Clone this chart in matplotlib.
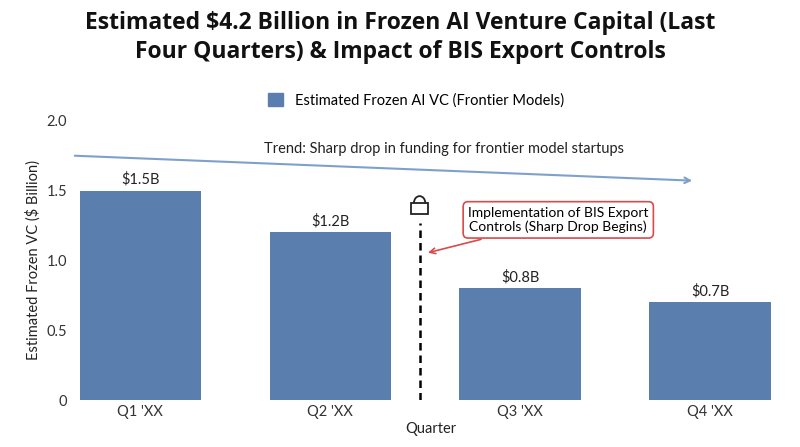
import matplotlib
matplotlib.use('Agg')
import matplotlib.pyplot as plt
from matplotlib.patches import Patch, Rectangle, Arc

quarters = ["Q1 'XX", "Q2 'XX", "Q3 'XX", "Q4 'XX"]
frozen_vc = [1.5, 1.2, 0.8, 0.7]
bar_labels = ['$1.5B', '$1.2B', '$0.8B', '$0.7B']

plt.rcParams['font.family'] = ['Lato', 'DejaVu Sans']
fig = plt.figure(figsize=(8, 4.47), dpi=100)
ax = fig.add_axes([0.09, 0.105, 0.8975, 0.625])

bar_color = '#5a7fae'
x = list(range(len(quarters)))
ax.bar(x, frozen_vc, width=0.64, color=bar_color)
for xi, v, lab in zip(x, frozen_vc, bar_labels):
    ax.text(xi, v + 0.03, lab, ha='center', va='bottom', fontsize=10.5, color='#222222')

ax.set_xlim(-0.36, 3.42)
ax.set_ylim(0, 2.0)
ax.set_yticks([0, 0.5, 1.0, 1.5, 2.0])
ax.set_yticklabels(['0', '0.5', '1.0', '1.5', '2.0'])
ax.set_xticks(x)
ax.set_xticklabels(quarters)
ax.tick_params(length=0, labelsize=10.5, colors='#333333')
for s in ax.spines.values():
    s.set_visible(False)
ax.set_ylabel('Estimated Frozen VC ($ Billion)', fontsize=10.5, color='#222222')
ax.set_xlabel('Quarter', fontsize=10.5, color='#222222', labelpad=2)

# policy line
lx = 1.47
ax.plot([lx, lx], [0, 1.27], ls='--', color='black', lw=1.8, dashes=(3, 2))
# simple padlock shape
ax.add_patch(Rectangle((lx - 0.045, 1.33), 0.09, 0.08, fc='white', ec='#222222', lw=1.3, zorder=5))
ax.add_patch(Arc((lx, 1.41), 0.06, 0.1, theta1=0, theta2=180, ec='#222222', lw=1.3, zorder=5))

ax.annotate('Implementation of BIS Export\nControls (Sharp Drop Begins)',
            xy=(lx + 0.03, 1.05), xytext=(2.2, 1.29), ha='center', va='center',
            fontsize=10,
            bbox=dict(boxstyle='round,pad=0.35', fc='white', ec='#d94a4a', lw=1.2),
            arrowprops=dict(arrowstyle='->', color='#d94a4a', lw=1.2))

# trend arrow
ax.annotate('', xy=(2.92, 1.57), xytext=(-0.36, 1.75),
            arrowprops=dict(arrowstyle='->', color='#7ea1cc', lw=1.5))
ax.text(1.6, 1.8, 'Trend: Sharp drop in funding for frontier model startups',
        ha='center', va='center', fontsize=10.5, color='#222222')

fig.legend(handles=[Patch(color=bar_color, label='Estimated Frozen AI VC (Frontier Models)')],
           loc='center', bbox_to_anchor=(0.52, 0.775), frameon=False, fontsize=10.5,
           handlelength=1.0, handleheight=1.0)

fig.suptitle('Estimated $4.2 Billion in Frozen AI Venture Capital (Last\n'
             'Four Quarters) & Impact of BIS Export Controls',
             y=0.975, fontsize=16.5, fontweight='bold', color='#111111', linespacing=1.25,
             family=['Open Sans', 'DejaVu Sans'])

fig.savefig('out.png', dpi=100, facecolor='white')
